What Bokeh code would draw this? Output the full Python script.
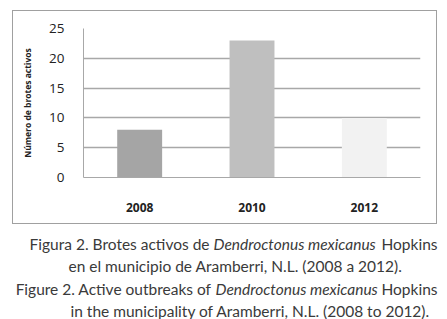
from bokeh.plotting import figure
from bokeh.layouts import column
from bokeh.models import FixedTicker, Range1d
from bokeh.core.properties import value
from bokeh.embed import file_html
from bokeh.resources import INLINE

years = ["2008", "2010", "2012"]
brotes = [8, 23, 10]
bar_colors = ["#a5a5a5", "#bfbfbf", "#f2f2f2"]
y_ticks = [0, 5, 10, 15, 20, 25]
y_label = "Número de brotes activos"

cap_parts = [
    ("Figura 2. Brotes activos de ", "normal", "right"),
    ("Dendroctonus mexicanus", "italic", "left"),
    ("Hopkins", "normal", "right"),
    ("en el municipio de Aramberri, N.L. (2008 a 2012).", "normal", "left"),
    ("Figure 2. Active outbreaks of ", "normal", "right"),
    ("Dendroctonus mexicanus", "italic", "left"),
    ("Hopkins", "normal", "right"),
    ("in the municipality of Aramberri, N.L. (2008 to 2012).", "normal", "left"),
]
cap_x = [213, 213, 437, 68, 215, 215, 437, 70]
cap_y = [19, 19, 19, 41, 64, 64, 64, 86]

# ---- chart ----
W1, H1 = 423, 212
p = figure(x_range=years, y_range=(0, 25), width=W1, height=H1,
           output_backend="svg", toolbar_location=None,
           min_border_left=70, min_border_right=18, min_border_top=17,
           min_border_bottom=H1 - 17 - 147)
p.frame_width = 335
p.frame_height = 147
p.frame_align = False
p.outline_line_color = None
p.styles = {"border": "1.6px solid #a0a0a0", "box-sizing": "border-box"}
p.margin = (10, 0, 0, 12)

p.vbar(x=years, top=brotes, width=0.4, color=bar_colors, line_color=None)

p.yaxis.ticker = FixedTicker(ticks=y_ticks)
p.ygrid.grid_line_color = "#a8a8a8"
p.ygrid.grid_line_width = 1.3
p.xgrid.grid_line_color = None
p.yaxis.major_tick_line_color = None
p.yaxis.minor_tick_line_color = None
p.xaxis.major_tick_line_color = None
p.yaxis.axis_line_color = "#a8a8a8"
p.xaxis.axis_line_color = "#a8a8a8"
p.yaxis.major_label_text_font = "Open Sans"
p.yaxis.major_label_text_font_size = "13.5px"
p.yaxis.major_label_text_color = "#222222"
p.yaxis.major_label_standoff = 13
p.xaxis.major_label_text_font = "Open Sans"
p.xaxis.major_label_text_font_size = "12px"
p.xaxis.major_label_text_font_style = "bold"
p.xaxis.major_label_text_color = "#222222"
p.xaxis.major_label_standoff = 19
p.yaxis.axis_label = y_label
p.yaxis.axis_label_text_font = "Open Sans"
p.yaxis.axis_label_text_font_size = "8.5px"
p.yaxis.axis_label_text_font_style = "bold"
p.yaxis.axis_label_text_color = "#222222"
p.yaxis.axis_label_standoff = 13

# ---- caption ----
W2, H2 = 447, 97
c = figure(x_range=Range1d(0, W2), y_range=Range1d(H2, 0), width=W2, height=H2,
           output_backend="svg", toolbar_location=None, min_border=0,
           min_border_left=0, min_border_right=0, min_border_top=0,
           min_border_bottom=0, x_axis_location=None, y_axis_location=None)
c.frame_width = W2
c.frame_height = H2
c.frame_align = False
c.grid.visible = False
c.outline_line_color = None
for (t, style, align), x, y in zip(cap_parts, cap_x, cap_y):
    c.text(x=[x], y=[y], text=[t], text_font=value("Lato"), text_font_size="15.5px",
           text_color="#3a3a3a", text_align=align, text_baseline="middle",
           text_font_style=style)

layout = column(p, c, spacing=0)
open("out.html", "w").write(file_html(layout, INLINE))
